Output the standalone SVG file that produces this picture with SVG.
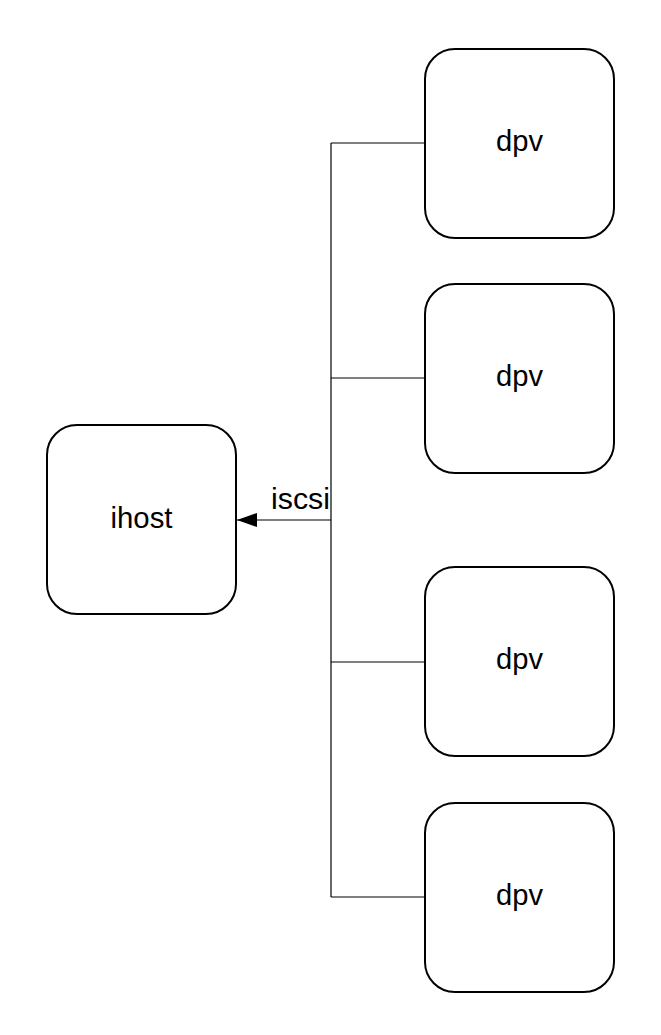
<svg xmlns="http://www.w3.org/2000/svg" width="661" height="1035" viewBox="0 0 661 1035">
<style>
.box{fill:#fff;stroke:#000;stroke-width:2}
.lbl{font-family:"Liberation Sans",Arial,sans-serif;font-size:29px;fill:#000;text-anchor:middle}
.ln{fill:none;stroke:#000;stroke-width:1.2}
</style>
<defs>
<marker id="arr" markerWidth="20" markerHeight="14" refX="20" refY="7" orient="auto" markerUnits="userSpaceOnUse">
<path d="M0,0 L20,7 L0,14 Z" fill="#000"/>
</marker>
</defs>
<rect width="661" height="1035" fill="#fff"/>
<g id="connectors">
<path class="ln" d="M331,143 L331,897"/>
<path class="ln" d="M331,143 H425 M331,378 H425 M331,662 H425 M331,897 H425"/>
<path class="ln" d="M331,520 H237" marker-end="url(#arr)"/>
<text x="330" y="508.5" textLength="59" lengthAdjust="spacingAndGlyphs" style="font-family:'Liberation Sans',Arial,sans-serif;font-size:29px;text-anchor:end">iscsi</text>
</g>
<g id="ihost"><rect class="box" x="47" y="425" width="189" height="189" rx="30"/><text class="lbl" x="141.5" y="528" textLength="62" lengthAdjust="spacingAndGlyphs">ihost</text></g>
<g id="dpv1"><rect class="box" x="425" y="49" width="189" height="189" rx="30"/><text class="lbl" x="519.5" y="151" textLength="47" lengthAdjust="spacingAndGlyphs">dpv</text></g>
<g id="dpv2"><rect class="box" x="425" y="284" width="189" height="189" rx="30"/><text class="lbl" x="519.5" y="386" textLength="47" lengthAdjust="spacingAndGlyphs">dpv</text></g>
<g id="dpv3"><rect class="box" x="425" y="567" width="189" height="189" rx="30"/><text class="lbl" x="519.5" y="669" textLength="47" lengthAdjust="spacingAndGlyphs">dpv</text></g>
<g id="dpv4"><rect class="box" x="425" y="803" width="189" height="189" rx="30"/><text class="lbl" x="519.5" y="905" textLength="47" lengthAdjust="spacingAndGlyphs">dpv</text></g>
</svg>
